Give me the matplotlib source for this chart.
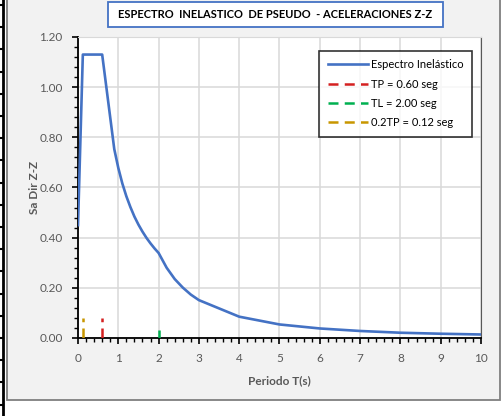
import matplotlib
matplotlib.use("Agg")
import matplotlib.pyplot as plt
from matplotlib.patches import Rectangle
from matplotlib.lines import Line2D
from matplotlib.ticker import MultipleLocator, FormatStrFormatter

plt.rcParams["font.family"] = ["Lato", "DejaVu Sans"]

# espectro inelastico (periodo vs Sa)
periodo = [0.0, 0.12, 0.6, 0.9, 1.0, 1.1, 1.2, 1.3, 1.4, 1.5, 1.6, 1.7, 1.8, 1.9, 2.0,
           2.2, 2.4, 2.6, 2.8, 3.0, 4.0, 5.0, 6.0, 7.0, 8.0, 9.0, 10.0]
sa = [0.45, 1.13, 1.13, 0.753, 0.678, 0.616, 0.565, 0.522, 0.484, 0.452, 0.424, 0.399,
      0.377, 0.357, 0.339, 0.280, 0.235, 0.201, 0.173, 0.151, 0.085, 0.054, 0.038,
      0.028, 0.021, 0.017, 0.014]

# lineas de referencia
ref_labels = ["TP = 0.60 seg", "TL = 2.00 seg", "0.2TP = 0.12 seg"]
ref_t = [0.60, 2.00, 0.12]
ref_top = [0.08, 0.03, 0.08]
ref_colors = ["#d42020", "#00b050", "#c89600"]

W, H = 502, 416
fig = plt.figure(figsize=(W / 100, H / 100), dpi=100)
fig.patch.set_facecolor("white")

# chart area background
fig.patches.append(Rectangle((6.5 / W, 1 - 400 / H), 494 / W, 402 / H,
                             transform=fig.transFigure, facecolor="#f2f2f2",
                             edgecolor="#7f7f7f", lw=1.3, zorder=-5))
# spreadsheet border on the left
fig.lines.append(Line2D([3.5 / W, 3.5 / W], [0, 1], transform=fig.transFigure,
                        color="black", lw=2, zorder=-4))
for i in range(19):
    yy = 1 - (5 + 22.2 * i) / H
    fig.lines.append(Line2D([0, 3.5 / W], [yy, yy], transform=fig.transFigure,
                            color="black", lw=1.5, zorder=-4))

ax = fig.add_axes([78 / W, 1 - 338 / H, 403 / W, 301 / H])
ax.set_facecolor("white")

ax.plot(periodo, sa, color="#4472c4", lw=1.9, label="Espectro Inelástico", zorder=3)
for t, top, c, lab in zip(ref_t, ref_top, ref_colors, ref_labels):
    ax.plot([t, t], [0, top], color=c, lw=1.8, dashes=(4, 2.5), label=lab, zorder=3)

ax.set_xlim(0, 10)
ax.set_ylim(0, 1.2)
ax.xaxis.set_major_locator(MultipleLocator(1))
ax.xaxis.set_minor_locator(MultipleLocator(0.2))
ax.yaxis.set_major_locator(MultipleLocator(0.2))
ax.yaxis.set_minor_locator(MultipleLocator(0.04))
ax.yaxis.set_major_formatter(FormatStrFormatter("%.2f"))
ax.grid(True, which="major", color="#d9d9d9", lw=1.1)
ax.set_axisbelow(True)

ax.tick_params(axis="both", which="major", direction="out", length=4, width=1.2,
               color="black", labelcolor="#595959", labelsize=8.5, pad=7)
ax.tick_params(axis="both", which="minor", direction="out", length=3, width=1,
               color="black")

ax.spines["left"].set_color("black")
ax.spines["bottom"].set_color("black")
ax.spines["left"].set_linewidth(1.3)
ax.spines["bottom"].set_linewidth(1.3)
ax.spines["right"].set_color("#595959")
ax.spines["top"].set_color("#d9d9d9")

ax.set_xlabel("Periodo T(s)", color="#595959", fontsize=8.5, fontweight="bold", labelpad=8)
fig.text(35 / W, 1 - 187 / H, "Sa Dir Z-Z", rotation=90, ha="center", va="center",
         color="#595959", fontsize=8.5, fontweight="bold")

leg = ax.legend(loc="upper right", bbox_to_anchor=(472 / W, 1 - 51 / H),
                bbox_transform=fig.transFigure, fontsize=8, frameon=True,
                fancybox=False, edgecolor="black", handlelength=3.6,
                labelspacing=0.75, borderpad=0.75, handletextpad=0.3,
                borderaxespad=0)
leg.get_frame().set_linewidth(1.2)
for txt in leg.get_texts():
    txt.set_color("black")

# title box
fig.patches.append(Rectangle((108 / W, 1 - 27 / H), 335 / W, 25 / H,
                             transform=fig.transFigure, facecolor="white",
                             edgecolor="#4472c4", lw=1.3, zorder=5))
fig.text(275.5 / W, 1 - 15 / H, "ESPECTRO  INELASTICO  DE PSEUDO  - ACELERACIONES Z-Z",
         ha="center", va="center", fontsize=8, fontweight="bold", zorder=6)

fig.savefig("out.png", dpi=100)
